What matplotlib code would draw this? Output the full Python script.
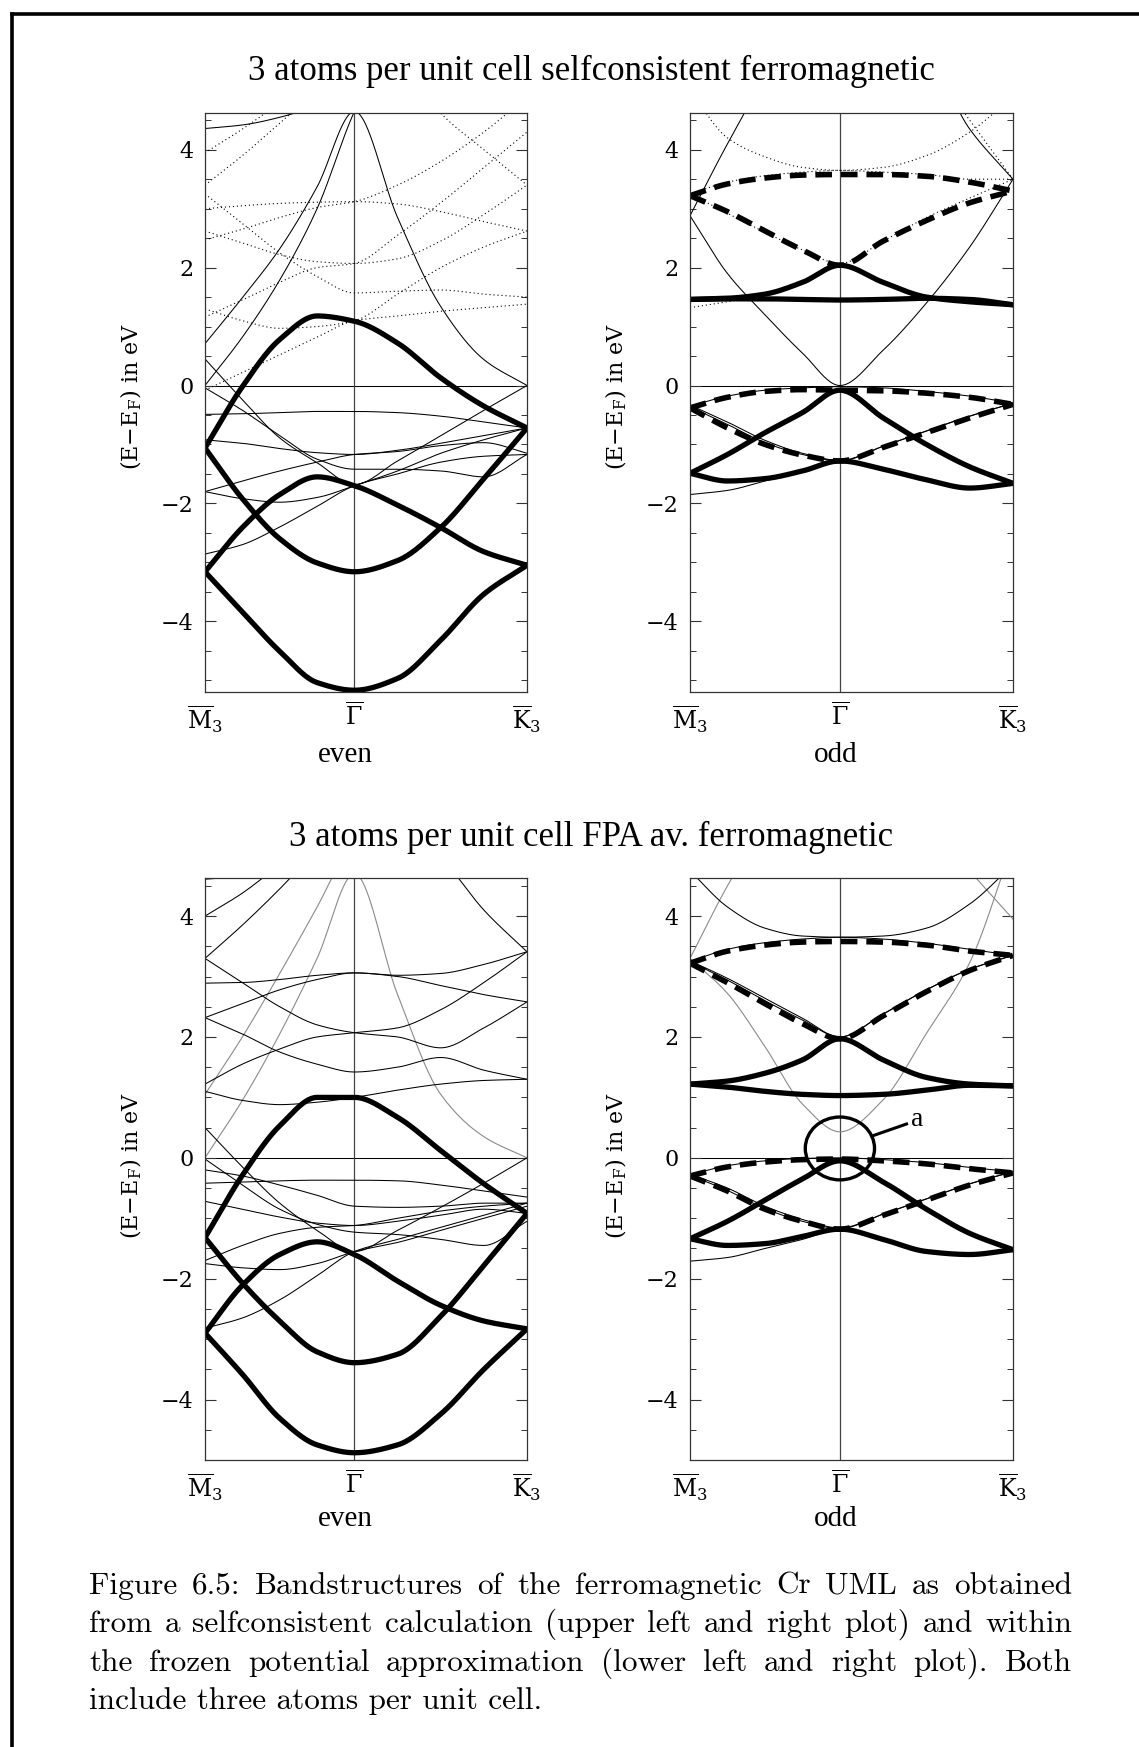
import numpy as np
import matplotlib
matplotlib.use("Agg")
import matplotlib.pyplot as plt
from matplotlib.patches import Ellipse
from matplotlib.lines import Line2D

plt.rcParams['font.family'] = ['DejaVu Serif']
plt.rcParams['mathtext.fontset'] = 'dejavuserif'

# k-path samples: M -> Gamma (|GM| = sqrt(3)/2 |GK|) -> K
kx = np.concatenate([np.linspace(-np.sqrt(3) / 2, 0, 5), np.linspace(0, 1, 5)[1:]])
k_labels = [r'$\overline{\mathrm{M}}_3$', r'$\overline{\Gamma}$', r'$\overline{\mathrm{K}}_3$']
e_ticks = [-4, -2, 0, 2, 4]
e_tick_labels = ['\u22124', '\u22122', '0', '2', '4']

# ---------------- selfconsistent, even ----------------
sc_even_thick = [
    [-1.06, -0.02, 0.78, 1.18, 1.09, 0.72, 0.13, -0.35, -0.72],
    [-1.06, -1.92, -2.60, -3.01, -3.16, -2.97, -2.41, -1.58, -0.72],
    [-3.16, -2.41, -1.85, -1.55, -1.70, -2.03, -2.41, -2.82, -3.05],
    [-3.16, -3.84, -4.51, -5.04, -5.17, -4.97, -4.32, -3.54, -3.05],
]
sc_even_thin = [
    [4.36, 4.42, 4.55, 4.75, 5.00, 5.20, 5.40, 5.60, 5.80],
    [0.71, 1.49, 2.32, 3.37, 4.65, 2.85, 1.34, 0.44, 0.00],
    [0.00, 0.82, 1.79, 3.00, 4.65, 6.00, 6.00, 6.00, 6.00],
    [0.45, -0.24, -0.89, -1.31, -1.68, -1.28, -0.85, -0.42, 0.00],
    [-0.49, -0.48, -0.46, -0.44, -0.44, -0.46, -0.52, -0.62, -0.72],
    [-0.92, -0.98, -1.07, -1.14, -1.17, -1.10, -0.98, -0.85, -0.72],
    [-0.04, -0.42, -0.85, -1.25, -1.42, -1.42, -1.45, -1.55, -1.17],
    [-1.80, -1.62, -1.45, -1.30, -1.17, -1.12, -1.02, -0.97, -1.15],
    [-1.80, -1.92, -1.98, -1.90, -1.70, -1.45, -1.15, -0.92, -0.72],
    [-2.86, -2.70, -2.40, -2.05, -1.70, -1.50, -1.30, -1.20, -1.17],
]
sc_even_dotted = [
    [3.00, 3.05, 3.09, 3.11, 3.12, 3.08, 2.95, 2.78, 2.62],
    [2.62, 2.42, 2.22, 2.10, 2.07, 2.15, 2.45, 2.90, 3.40],
    [3.25, 2.75, 2.25, 1.85, 1.57, 1.60, 1.62, 1.55, 1.50],
    [-0.08, 0.22, 0.52, 0.82, 1.10, 1.18, 1.26, 1.32, 1.38],
    [1.30, 1.10, 0.97, 1.00, 1.10, 1.55, 2.00, 2.35, 2.62],
    [1.16, 1.45, 1.75, 2.00, 2.07, 2.55, 3.10, 3.70, 4.30],
    [2.47, 2.65, 2.85, 3.02, 3.12, 3.40, 3.80, 4.30, 4.90],
    [3.95, 4.35, 4.80, 5.30, 5.80, 6.00, 6.00, 6.00, 6.00],
    [3.40, 3.90, 4.45, 5.00, 5.50, 6.00, 6.00, 6.00, 6.00],
    [6.00, 6.00, 6.00, 6.00, 6.00, 5.60, 4.62, 4.00, 3.40],
]

# ---------------- selfconsistent, odd ----------------
sc_odd_thick = [
    [1.46, 1.48, 1.55, 1.75, 2.04, 1.75, 1.50, 1.42, 1.37],
    [1.46, 1.47, 1.47, 1.46, 1.45, 1.46, 1.48, 1.46, 1.37],
    [-1.49, -1.17, -0.80, -0.46, -0.08, -0.55, -1.00, -1.38, -1.66],
    [-1.49, -1.62, -1.58, -1.45, -1.28, -1.42, -1.60, -1.74, -1.66],
]
sc_odd_dashed = [
    [-0.38, -0.20, -0.10, -0.07, -0.08, -0.09, -0.13, -0.20, -0.32],
    [-0.38, -0.72, -1.00, -1.18, -1.28, -1.05, -0.80, -0.55, -0.32],
    [3.22, 3.42, 3.52, 3.57, 3.58, 3.58, 3.55, 3.45, 3.30],
    [3.22, 2.95, 2.62, 2.30, 2.04, 2.45, 2.80, 3.10, 3.30],
]
sc_odd_thin = [
    [2.88, 1.90, 1.20, 0.55, 0.00, 0.60, 1.40, 2.35, 3.50],
    [2.88, 4.10, 5.20, 6.00, 6.00, 6.00, 5.60, 4.35, 3.50],
    [-0.35, -0.18, -0.08, -0.04, -0.02, -0.04, -0.10, -0.18, -0.30],
    [-0.33, -0.62, -0.93, -1.15, -1.27, -1.03, -0.77, -0.52, -0.30],
    [-0.36, -0.66, -0.97, -1.17, -1.28, -1.03, -0.77, -0.52, -0.30],
    [-1.85, -1.78, -1.62, -1.45, -1.28, -1.42, -1.60, -1.74, -1.66],
]
sc_odd_dotted = [
    [5.00, 4.20, 3.88, 3.70, 3.65, 3.70, 3.90, 4.30, 4.90],
    [6.00, 6.00, 6.00, 6.00, 6.00, 6.00, 5.50, 4.50, 3.50],
    [3.25, 3.45, 3.56, 3.62, 3.65, 3.62, 3.58, 3.50, 3.50],
    [3.25, 2.92, 2.60, 2.30, 2.07, 2.45, 2.85, 3.18, 3.50],
    [1.32, 1.42, 1.55, 1.75, 2.04, 1.75, 1.50, 1.42, 1.37],
]

# ---------------- frozen potential, even ----------------
fpa_even_thick = [
    [-1.32, -0.29, 0.53, 1.00, 1.00, 0.67, 0.12, -0.43, -0.92],
    [-1.32, -2.07, -2.70, -3.21, -3.39, -3.25, -2.62, -1.78, -0.92],
    [-2.90, -2.11, -1.60, -1.39, -1.60, -2.04, -2.44, -2.70, -2.83],
    [-2.90, -3.58, -4.31, -4.75, -4.88, -4.75, -4.24, -3.50, -2.83],
]
fpa_even_thin = [
    [4.61, 4.66, 4.78, 4.95, 5.20, 5.20, 5.20, 5.20, 5.20],
    [4.00, 4.38, 4.85, 5.30, 5.80, 6.00, 6.00, 6.00, 6.00],
    [3.30, 3.85, 4.45, 5.10, 5.70, 6.00, 6.00, 6.00, 6.00],
    [6.00, 6.00, 6.00, 6.00, 6.00, 5.80, 5.00, 4.10, 3.41],
    [3.30, 2.90, 2.50, 2.20, 2.07, 2.00, 1.82, 2.15, 2.58],
    [2.89, 2.90, 2.95, 3.02, 3.06, 3.00, 2.85, 2.70, 2.58],
    [2.32, 2.55, 2.78, 2.95, 3.06, 3.02, 3.05, 3.20, 3.41],
    [1.22, 1.55, 1.80, 2.00, 2.07, 2.15, 2.45, 2.90, 3.41],
    [2.32, 2.05, 1.75, 1.55, 1.42, 1.50, 1.66, 1.45, 1.30],
    [1.10, 0.95, 0.88, 0.92, 1.00, 1.12, 1.22, 1.28, 1.30],
    [0.50, -0.15, -0.75, -1.20, -1.55, -1.20, -0.82, -0.42, 0.00],
    [-0.02, -0.45, -0.85, -1.10, -1.23, -1.27, -1.35, -1.45, -1.05],
    [-0.72, -0.85, -0.98, -1.08, -1.12, -1.05, -0.95, -0.85, -0.92],
    [-0.42, -0.40, -0.38, -0.37, -0.37, -0.38, -0.45, -0.55, -0.65],
    [-0.20, -0.30, -0.45, -0.62, -0.80, -0.82, -0.80, -0.75, -0.75],
    [-1.70, -1.45, -1.25, -1.15, -1.12, -1.00, -0.88, -0.80, -0.75],
    [-1.75, -1.82, -1.85, -1.75, -1.55, -1.40, -1.20, -1.00, -0.80],
    [-2.82, -2.65, -2.35, -1.95, -1.55, -1.35, -1.15, -0.95, -0.75],
]
fpa_even_gray = [
    [0.00, 0.95, 2.05, 3.30, 4.70, 2.70, 1.05, 0.35, 0.00],
    [1.05, 2.00, 3.05, 4.15, 5.30, 6.00, 6.00, 6.00, 6.00],
]

# ---------------- frozen potential, odd ----------------
fpa_odd_thick = [
    [1.22, 1.27, 1.40, 1.62, 1.97, 1.62, 1.33, 1.22, 1.19],
    [1.22, 1.17, 1.10, 1.05, 1.03, 1.05, 1.12, 1.20, 1.19],
    [-1.34, -1.05, -0.70, -0.35, -0.05, -0.40, -0.85, -1.25, -1.52],
    [-1.34, -1.45, -1.42, -1.30, -1.18, -1.35, -1.55, -1.60, -1.52],
]
fpa_odd_dashed = [
    [-0.30, -0.15, -0.07, -0.03, -0.02, -0.05, -0.10, -0.18, -0.25],
    [-0.30, -0.55, -0.85, -1.05, -1.18, -0.95, -0.70, -0.45, -0.25],
    [3.22, 3.42, 3.52, 3.57, 3.58, 3.57, 3.52, 3.42, 3.35],
    [3.22, 2.90, 2.55, 2.22, 1.97, 2.35, 2.75, 3.10, 3.35],
]
fpa_odd_thin = [
    [4.75, 4.15, 3.80, 3.67, 3.65, 3.67, 3.80, 4.20, 4.85],
    [3.25, 3.45, 3.56, 3.62, 3.65, 3.62, 3.55, 3.45, 3.35],
    [3.25, 2.94, 2.60, 2.28, 2.00, 2.38, 2.78, 3.12, 3.35],
    [3.26, 2.97, 2.64, 2.31, 2.00, 2.38, 2.78, 3.12, 3.35],
    [-0.28, -0.13, -0.05, -0.01, 0.00, -0.03, -0.08, -0.16, -0.23],
    [-0.27, -0.50, -0.80, -1.02, -1.16, -0.93, -0.68, -0.43, -0.23],
    [-0.29, -0.54, -0.84, -1.05, -1.17, -0.93, -0.68, -0.43, -0.23],
    [-1.71, -1.65, -1.50, -1.35, -1.18, -1.35, -1.55, -1.60, -1.52],
]
fpa_odd_gray = [
    [3.30, 2.72, 1.84, 0.89, 0.43, 0.96, 2.06, 3.23, 5.20],
    [3.30, 4.50, 5.50, 6.00, 6.00, 6.00, 6.00, 6.00, 6.00],
    [6.00, 6.00, 6.00, 6.00, 6.00, 6.00, 5.60, 4.75, 3.95],
]


def pchip(x, y, xq):
    """Monotone cubic Hermite curve through (x, y), evaluated at xq."""
    h = np.diff(x)
    d = np.diff(y) / h
    m = np.zeros_like(y)
    m[0], m[-1] = d[0], d[-1]
    for i in range(1, len(y) - 1):
        if d[i - 1] * d[i] > 0:
            w1 = 2 * h[i] + h[i - 1]
            w2 = h[i] + 2 * h[i - 1]
            m[i] = (w1 + w2) / (w1 / d[i - 1] + w2 / d[i])
    idx = np.clip(np.searchsorted(x, xq) - 1, 0, len(x) - 2)
    t = (xq - x[idx]) / h[idx]
    h00 = 2 * t**3 - 3 * t**2 + 1
    h10 = t**3 - 2 * t**2 + t
    h01 = -2 * t**3 + 3 * t**2
    h11 = t**3 - t**2
    return (h00 * y[idx] + h10 * h[idx] * m[idx]
            + h01 * y[idx + 1] + h11 * h[idx] * m[idx + 1])


XQ = np.linspace(kx[0], kx[-1], 600)


def draw_bands(ax, bands, **style):
    for band in bands:
        ax.plot(XQ, pchip(kx, np.asarray(band, float), XQ), **style)


THIN = dict(color='black', lw=0.75, solid_capstyle='butt')
GRAY = dict(color='#8a8a8a', lw=0.8)
DOTTED = dict(color='black', lw=0.8, linestyle=(0, (1.0, 2.6)))
THICK = dict(color='black', lw=3.8, solid_capstyle='round', solid_joinstyle='round')
DASHED = dict(color='black', lw=4.0, linestyle=(0, (3.0, 1.6)), dash_capstyle='butt')

W, H = 1139, 1747
fig = plt.figure(figsize=(W / 100, H / 100), dpi=100)


def make_axes(left_px, top_px, right_px, bottom_px, ylim):
    ax = fig.add_axes([left_px / W, 1 - bottom_px / H,
                       (right_px - left_px) / W, (bottom_px - top_px) / H])
    ax.set_xlim(kx[0], kx[-1])
    ax.set_ylim(*ylim)
    ax.axhline(0, color='black', lw=0.75, zorder=1)
    ax.axvline(0, color='#444444', lw=0.9, zorder=1)
    ax.set_xticks([kx[0], 0, kx[-1]])
    ax.set_xticklabels(k_labels, fontsize=17)
    ax.set_yticks(e_ticks)
    ax.set_yticklabels(e_tick_labels, fontsize=16)
    ax.set_yticks(np.arange(-5, 4.6, 0.5), minor=True)
    ax.tick_params(axis='x', length=0, pad=8)
    ax.tick_params(axis='y', which='major', direction='in', length=8, width=0.8,
                   left=True, right=True, pad=8, color='#333333')
    ax.tick_params(axis='y', which='minor', direction='in', length=4.5, width=0.7,
                   left=True, right=True, color='#333333')
    for sp in ax.spines.values():
        sp.set_linewidth(0.9)
        sp.set_color('#333333')
    return ax


top_ylim = (-5.20, 4.63)
bot_ylim = (-4.92, 4.63)

ax_tl = make_axes(205, 112.6, 527, 692, top_ylim)
ax_tr = make_axes(690, 112.6, 1013, 692, top_ylim)
ax_bl = make_axes(205, 878, 527, 1460, bot_ylim)
ax_br = make_axes(690, 878, 1013, 1460, bot_ylim)

# selfconsistent even
draw_bands(ax_tl, sc_even_dotted, **DOTTED)
draw_bands(ax_tl, sc_even_thin, **THIN)
draw_bands(ax_tl, sc_even_thick, **THICK)

# selfconsistent odd
draw_bands(ax_tr, sc_odd_dotted, **DOTTED)
draw_bands(ax_tr, sc_odd_thin, **THIN)
draw_bands(ax_tr, sc_odd_thick, **THICK)
draw_bands(ax_tr, sc_odd_dashed, **DASHED)

# frozen potential even
draw_bands(ax_bl, fpa_even_gray, **GRAY)
draw_bands(ax_bl, fpa_even_thin, **THIN)
draw_bands(ax_bl, fpa_even_thick, **THICK)

# frozen potential odd
draw_bands(ax_br, fpa_odd_gray, **GRAY)
draw_bands(ax_br, fpa_odd_thin, **THIN)
draw_bands(ax_br, fpa_odd_thick, **THICK)
draw_bands(ax_br, fpa_odd_dashed, **DASHED)

# marked region "a" around Gamma near the Fermi level
ax_br.add_patch(Ellipse((0.0, 0.155), width=0.40, height=1.04, fill=False,
                        lw=2.4, color='black', zorder=5))
ax_br.plot([0.185, 0.385], [0.36, 0.56], color='black', lw=2.2, zorder=5)
ax_br.text(0.41, 0.64, 'a', fontsize=20, family='Liberation Serif',
           ha='left', va='center')

# axis labels
ylab = r'(E$-$E$_{\mathrm{F}}$) in eV'
for xp, yp in [(131, 396), (616, 396), (131, 1165), (616, 1165)]:
    fig.text(xp / W, 1 - yp / H, ylab, rotation=90, ha='center', va='center',
             fontsize=16)
for xp, yp, s in [(345, 755, 'even'), (836, 755, 'odd'),
                  (345, 1519, 'even'), (836, 1519, 'odd')]:
    fig.text(xp / W, 1 - yp / H, s, ha='center', va='center', fontsize=21,
             family='Liberation Serif')

fig.text(591 / W, 1 - 71 / H, '3 atoms per unit cell selfconsistent ferromagnetic',
         ha='center', va='center', fontsize=25, family='Liberation Serif')
fig.text(591 / W, 1 - 837 / H, '3 atoms per unit cell FPA av. ferromagnetic',
         ha='center', va='center', fontsize=25, family='Liberation Serif')

# page frame
fig.add_artist(Line2D([12 / W, 1.0], [1 - 14 / H, 1 - 14 / H], lw=2.6,
                      color='black', transform=fig.transFigure))
fig.add_artist(Line2D([12 / W, 12 / W], [0.0, 1 - 14 / H], lw=2.6,
                      color='black', transform=fig.transFigure))

# justified caption
caption_lines = [
    "Figure 6.5: Bandstructures of the ferromagnetic Cr UML as obtained",
    "from a selfconsistent calculation (upper left and right plot) and within",
    "the frozen potential approximation (lower left and right plot).  Both",
    "include three atoms per unit cell.",
]
cap_left, cap_right = 89, 1072
cap_baselines = [1594, 1632, 1671, 1709]
cap_style = dict(fontsize=22.5, family='cmr10', va='baseline', ha='left')
renderer = fig.canvas.get_renderer()
for i, (line, yb) in enumerate(zip(caption_lines, cap_baselines)):
    if i == len(caption_lines) - 1:
        fig.text(cap_left / W, 1 - yb / H, line, **cap_style)
        continue
    words = line.split()
    texts = [fig.text(0, 1 - yb / H, w, **cap_style) for w in words]
    widths = [t.get_window_extent(renderer).width for t in texts]
    gap = ((cap_right - cap_left) - sum(widths)) / (len(words) - 1)
    x = cap_left
    for t, w in zip(texts, widths):
        t.set_x(x / W)
        x += w + gap

fig.savefig('out.png', dpi=100)
